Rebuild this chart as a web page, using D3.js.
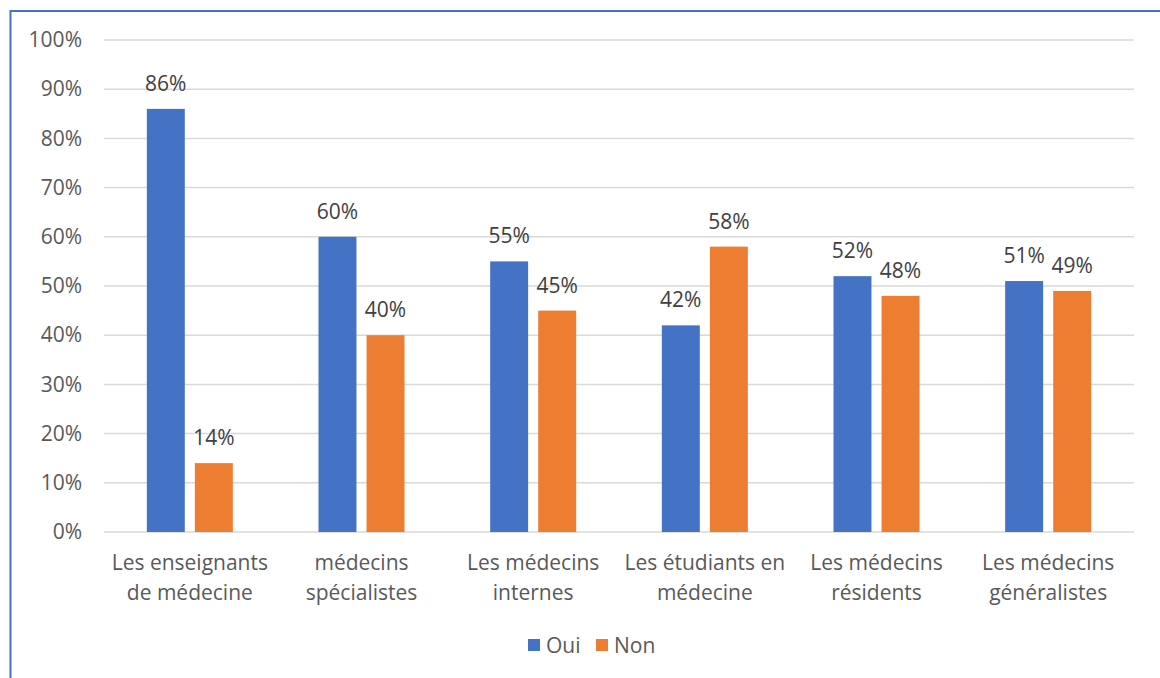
<!DOCTYPE html>
<html>
<head>
<meta charset="utf-8">
<script src="https://cdn.jsdelivr.net/npm/d3@7"></script>
<style>
  html, body { margin: 0; padding: 0; background: #fff; }
  svg { display: block; font-family: "Open Sans", "Noto Sans", sans-serif; }
</style>
</head>
<body>
<svg id="chart" width="1160" height="678"></svg>
<script>
// Survey answers by group
const categories = [
  ["Les enseignants", "de médecine"],
  ["médecins", "spécialistes"],
  ["Les médecins", "internes"],
  ["Les étudiants en", "médecine"],
  ["Les médecins", "résidents"],
  ["Les médecins", "généralistes"]
];
const seriesNames = ["Oui", "Non"];
const oui = [86, 60, 55, 42, 52, 51];
const non = [14, 40, 45, 58, 48, 49];
const yTicks = [0, 10, 20, 30, 40, 50, 60, 70, 80, 90, 100];
const colors = ["#4472C4", "#ED7D31"];

const FONT = "21px";
const svg = d3.select("#chart");
const W = 1160, H = 678;
const m = { left: 104, right: 26, top: 40, bottom: 146 };

// frame lines on the left and top edges
svg.append("line").attr("x1", 10.5).attr("x2", 10.5).attr("y1", 10).attr("y2", H)
  .attr("stroke", "#4472C4").attr("stroke-width", 2);
svg.append("line").attr("x1", 10).attr("x2", W).attr("y1", 11).attr("y2", 11)
  .attr("stroke", "#4472C4").attr("stroke-width", 2);

const x0 = d3.scaleBand().domain(d3.range(categories.length))
  .range([m.left, W - m.right]).paddingInner(0).paddingOuter(0);
const y = d3.scaleLinear().domain([0, 100]).range([H - m.bottom, m.top]);

const halfGroup = 43;
const x1 = d3.scaleBand().domain(seriesNames).range([-halfGroup, halfGroup]).paddingInner(0.21);

// gridlines
svg.append("g").selectAll("line").data(yTicks).join("line")
  .attr("x1", m.left).attr("x2", W - m.right)
  .attr("y1", d => y(d)).attr("y2", d => y(d))
  .attr("stroke", "#D9D9D9").attr("stroke-width", 1.5);

// y axis labels
const yAxis = d3.axisLeft(y).tickValues(yTicks).tickFormat(d => d + "%").tickSize(0).tickPadding(0);
const gy = svg.append("g").attr("transform", `translate(${m.left - 22},0)`).call(yAxis);
gy.select(".domain").remove();
gy.selectAll("text").attr("fill", "#595959").style("font-size", FONT)
  .style("font-family", "'Open Sans', 'Noto Sans', sans-serif");

// bars
const data = seriesNames.map((s, i) => ({ name: s, values: i === 0 ? oui : non, color: colors[i] }));
const groups = svg.append("g").selectAll("g").data(data).join("g").attr("fill", d => d.color);
groups.selectAll("rect")
  .data(d => d.values.map((v, j) => ({ v, j, name: d.name })))
  .join("rect")
  .attr("x", d => x0(d.j) + x0.bandwidth() / 2 + x1(d.name))
  .attr("width", x1.bandwidth())
  .attr("y", d => y(d.v))
  .attr("height", d => y(0) - y(d.v));

// value labels
groups.selectAll("text")
  .data(d => d.values.map((v, j) => ({ v, j, name: d.name })))
  .join("text")
  .attr("x", d => x0(d.j) + x0.bandwidth() / 2 + x1(d.name) + x1.bandwidth() / 2)
  .attr("y", d => y(d.v) - 18)
  .attr("text-anchor", "middle")
  .attr("fill", "#404040")
  .style("font-size", FONT)
  .text(d => d.v + "%");

// category labels
const xAxis = svg.append("g");
xAxis.selectAll("text").data(categories).join("text")
  .attr("x", (d, i) => x0(i) + x0.bandwidth() / 2)
  .attr("y", 570)
  .attr("text-anchor", "middle")
  .attr("fill", "#595959")
  .style("font-size", FONT)
  .selectAll("tspan").data(d => d).join("tspan")
  .attr("x", function () { return this.parentNode.getAttribute("x"); })
  .attr("dy", (d, i) => i === 0 ? 0 : 30)
  .text(d => d);

// legend
const legend = svg.append("g").attr("transform", "translate(528,645)");
const items = [{ name: "Oui", x: 0 }, { name: "Non", x: 68 }];
items.forEach((it, i) => {
  legend.append("rect").attr("x", it.x).attr("y", -6).attr("width", 12).attr("height", 12).attr("fill", colors[i]);
  legend.append("text").attr("x", it.x + 18).attr("y", 7.5).attr("fill", "#595959")
    .style("font-size", FONT).text(it.name);
});
</script>
</body>
</html>
